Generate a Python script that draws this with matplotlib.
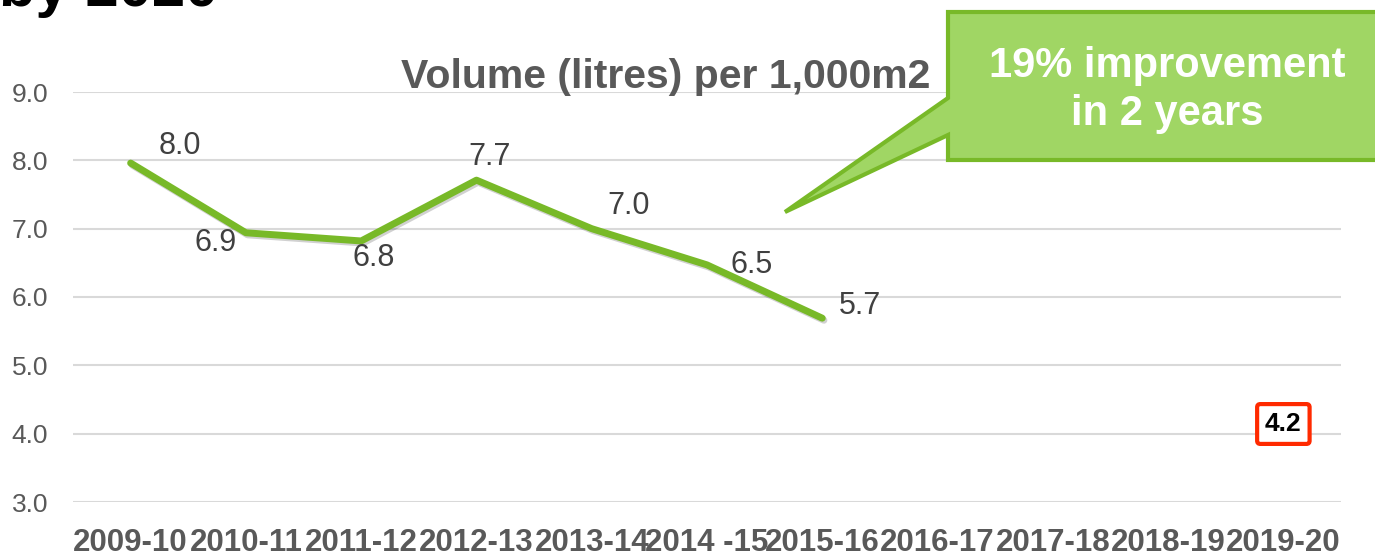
import matplotlib.pyplot as plt
from matplotlib.patches import Polygon
import matplotlib.patheffects as pe

plt.rcParams["font.family"] = ["Liberation Sans", "DejaVu Sans"]

# data
years = ["2009-10", "2010-11", "2011-12", "2012-13", "2013-14", "2014 -15",
         "2015-16", "2016-17", "2017-18", "2018-19", "2019-20"]
volume = [7.96, 6.94, 6.82, 7.71, 7.0, 6.47, 5.69]
target_year = "2019-20"
target_value = 4.2

# label offsets (pixels) so they sit where the slide had them
label_offsets = [(49, 17), (-30, -10), (13, -17), (13, 23), (37, 23), (45, 0), (38, 12)]

W, H = 1375, 556
LINE_GREEN = "#78B928"
BOX_FILL = "#A0D664"
GREY = "#595959"

fig = plt.figure(figsize=(W / 100, H / 100), dpi=100)
ax = fig.add_axes([73 / W, 1 - 502 / H, (1341 - 73) / W, (502 - 92) / H])

x = list(range(len(years)))
ax.plot(x[:len(volume)], volume, color=LINE_GREEN, lw=5, solid_capstyle="round",
        solid_joinstyle="round", zorder=3,
        path_effects=[pe.SimpleLineShadow(offset=(1.2, -1.5), shadow_color="black", alpha=0.18),
                      pe.Normal()])

for i, (v, off) in enumerate(zip(volume, label_offsets)):
    ax.annotate(f"{v:.1f}", (i, v), xytext=off, textcoords="offset pixels",
                ha="center", va="center", fontsize=22, color="#404040", zorder=4)

ax.annotate(f"{target_value:.1f}", (years.index(target_year), target_value), xytext=(0, -4),
            textcoords="offset pixels", ha="center", va="center",
            fontsize=19, fontweight="bold", color="black", zorder=5,
            bbox=dict(boxstyle="round,pad=0.3,rounding_size=0.12", fc="white", ec="#FF2A00", lw=3))

ax.set_xlim(-0.5, len(years) - 0.5)
ax.set_ylim(3, 9)
ax.set_yticks([3, 4, 5, 6, 7, 8, 9])
ax.set_yticklabels([f"{t:.1f}" for t in range(3, 10)])
ax.set_xticks(x)
ax.set_xticklabels(years, fontweight="bold")
ax.tick_params(axis="y", length=0, pad=18, labelsize=19, labelcolor=GREY)
ax.tick_params(axis="x", length=0, pad=19, labelsize=22.5, labelcolor=GREY)
ax.grid(axis="y", color="#D9D9D9", lw=1.5)
ax.set_axisbelow(True)
for s in ax.spines.values():
    s.set_visible(False)


def px(xp, yp):
    return (xp / W, 1 - yp / H)


# slide heading cut off at the top
fig.text(*px(218, 6), "by 2020", ha="right", va="baseline", fontsize=43,
         fontweight="bold", color="black")

fig.text(*px(401, 88), "Volume (litres) per 1,000m2", ha="left", va="baseline",
         fontsize=29.5, fontweight="bold", color=GREY, zorder=1)

# callout box with pointer
callout = Polygon([px(948, 12), px(1390, 12), px(1390, 160), px(948, 160),
                   px(948, 135), px(785, 212), px(948, 98)], closed=True,
                  transform=fig.transFigure, fc=BOX_FILL, ec=LINE_GREEN, lw=3, zorder=5)
fig.patches.append(callout)
fig.text(*px(1167, 66), "19% improvement", ha="center", va="center", fontsize=30,
         fontweight="bold", color="white", zorder=6)
fig.text(*px(1167, 114), "in 2 years", ha="center", va="center", fontsize=30,
         fontweight="bold", color="white", zorder=6)

fig.savefig("out.png", dpi=100)
